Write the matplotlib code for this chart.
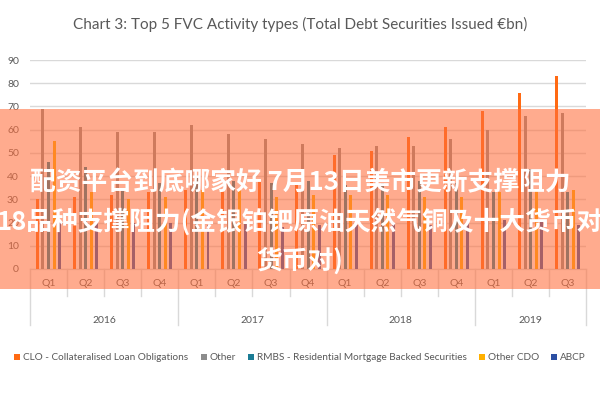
import numpy as np
import matplotlib.pyplot as plt
from matplotlib.patches import Rectangle
from matplotlib.lines import Line2D

# values (EUR bn)
years = ['2016', '2017', '2018', '2019']
quarters = ['Q1', 'Q2', 'Q3', 'Q4'] * 3 + ['Q1', 'Q2', 'Q3']
clo = [30, 31, 32, 33, 34, 34, 38, 37, 49, 51, 57, 61, 68, 76, 83]
other = [69, 61, 59, 59, 62, 58, 56, 54, 52, 53, 53, 56, 60, 66, 67]
rmbs = [46, 44, 35, 37, 40, 38, 37, 38, 36, 37, 38, 37, 33, 43, 33]
other_cdo = [55, 33, 30, 31, 34, 34, 31, 32, 32, 32, 31, 31, 33, 34, 34]
abcp = [20, 22, 20, 20, 19, 20, 18, 19, 19, 20, 19, 20, 21, 21, 19]

series = [
    ('CLO - Collateralised Loan Obligations', clo, '#FF6A13'),
    ('Other', other, '#8C8C8C'),
    ('RMBS - Residential Mortgage Backed Securities', rmbs, '#1B7C95'),
    ('Other CDO', other_cdo, '#FFB000'),
    ('ABCP', abcp, '#2C4FA3'),
]

plt.rcParams['font.family'] = ['Lato', 'DejaVu Sans']
txt = '#595959'

fig = plt.figure(figsize=(6, 4), dpi=100)
ax = fig.add_axes([0.05, 0.3275, 0.927, 0.5225])

x = np.arange(len(quarters))
for i, (name, vals, col) in enumerate(series):
    ax.bar(x + (i - 2) * 0.15, vals, width=0.08, color=col, label=name, zorder=3)

ax.set_xlim(-0.5, len(quarters) - 0.5)
ax.set_ylim(0, 90)
ax.set_yticks(range(0, 91, 10))
ax.tick_params(axis='y', length=0, labelsize=7.5, labelcolor=txt, pad=8)
ax.grid(axis='y', color='#D9D9D9', linewidth=1, zorder=0)
ax.set_xticks([])
for s in ['top', 'right', 'left']:
    ax.spines[s].set_visible(False)
ax.spines['bottom'].set_color('#D9D9D9')

# two-level category axis
trans = ax.get_xaxis_transform()
for i, q in enumerate(quarters):
    ax.text(i, -0.07, q, transform=trans, ha='center', va='center',
            fontsize=7.5, color=txt)
for b in range(len(quarters) + 1):
    long = b % 4 == 0 or b == len(quarters)
    ax.add_line(Line2D([b - 0.5, b - 0.5], [0, -0.27 if long else -0.13],
                       transform=trans, color='#D9D9D9', lw=1, clip_on=False))
for k, yr in enumerate(years):
    start = k * 4
    end = min(start + 4, len(quarters))
    ax.text((start + end - 1) / 2, -0.245, yr, transform=trans, ha='center',
            va='center', fontsize=7.5, color=txt)

fig.text(0.5, 0.94, 'Chart 3: Top 5 FVC Activity types (Total Debt Securities Issued \u20acbn)',
         ha='center', va='center', fontsize=11, color=txt)

fig.legend(loc='center', bbox_to_anchor=(0.5, 0.105), ncol=5, frameon=False,
           fontsize=7.2, handlelength=0.6, handleheight=0.6, handletextpad=0.3,
           columnspacing=1.2, labelcolor=txt)

# translucent banner with text on top
fig.patches.append(Rectangle((0, 1 - 289 / 400), 1, 180 / 400, transform=fig.transFigure,
                             facecolor='#FF6E3C', alpha=0.58, edgecolor='none', zorder=10))
cjk = ['Noto Sans CJK SC', 'DejaVu Sans']
lines = ['配资平台到底哪家好 7月13日美市更新支撑阻力',
         '18品种支撑阻力(金银铂钯原油天然气铜及十大货币对',
         '货币对)']
for j, line in enumerate(lines):
    fig.text(0.5, 1 - (183 + j * 39) / 400, line, ha='center', va='center',
             fontsize=18.5, fontweight='bold', color='white', family=cjk, zorder=11)

fig.savefig('out.png', dpi=100)
